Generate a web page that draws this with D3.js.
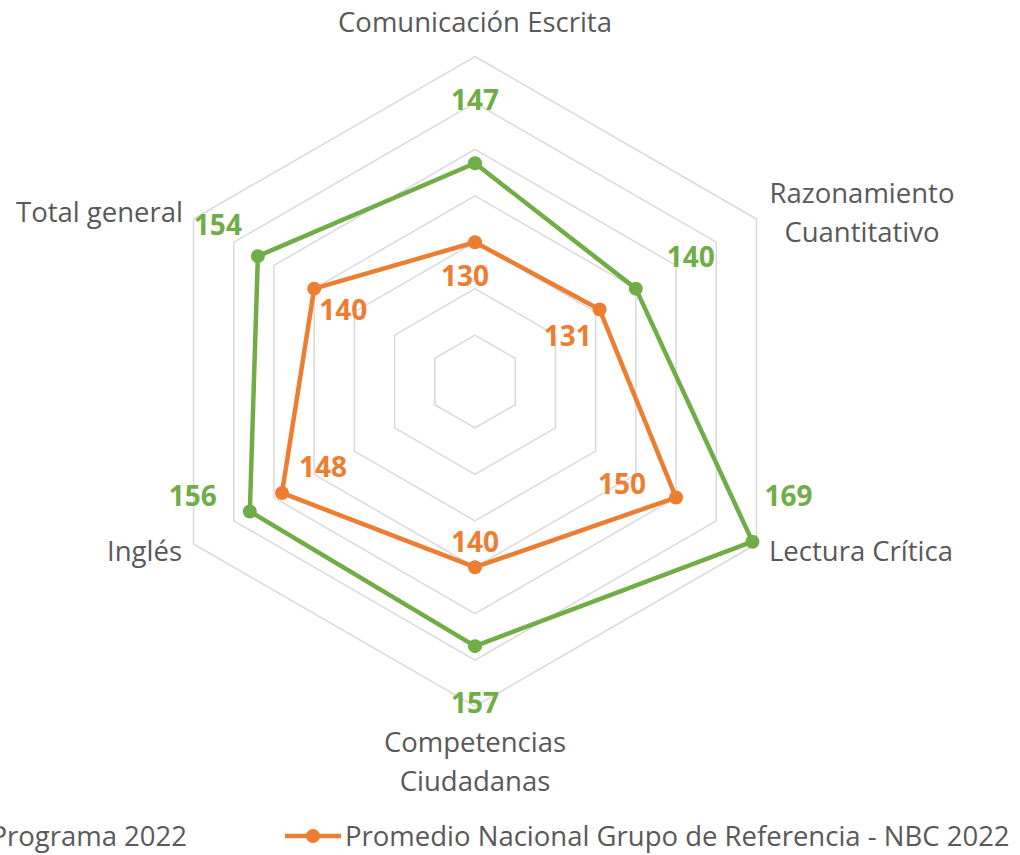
<!DOCTYPE html>
<html>
<head>
<meta charset="utf-8">
<script src="https://cdn.jsdelivr.net/npm/d3@7"></script>
<style>
  html, body { margin: 0; padding: 0; background: #fff; overflow: hidden; }
  svg { display: block; font-family: "Open Sans", sans-serif; }
</style>
</head>
<body>
<div id="chart"></div>
<script>
// categories, clockwise from the top
const categories = [
  ["Comunicación Escrita"],
  ["Razonamiento", "Cuantitativo"],
  ["Lectura Crítica"],
  ["Competencias", "Ciudadanas"],
  ["Inglés"],
  ["Total general"]
];
const programa = [147, 140, 169, 157, 156, 154];
const nacional = [130, 131, 150, 140, 148, 140];
const ringTicks = [110, 120, 130, 140, 150, 160, 170];
const seriesNames = ["Programa 2022", "Promedio Nacional Grupo de Referencia - NBC 2022"];

const W = 1020, H = 855;
const cx = 475, cy = 381.5;
const green = "#70AD47", orange = "#ED7D31", grey = "#595959";

const svg = d3.select("#chart").append("svg")
  .attr("width", W).attr("height", H);

const r = d3.scaleLinear().domain([100, 170]).range([0, 325]);
const angle = d3.scaleLinear().domain([0, categories.length]).range([0, 2 * Math.PI]);

function pos(i, v) {
  const a = angle(i);
  return [cx + r(v) * Math.sin(a), cy - r(v) * Math.cos(a)];
}

const g = svg.append("g");

// hexagon grid
g.selectAll(".ring")
  .data(ringTicks)
  .enter().append("polygon")
    .attr("class", "ring")
    .attr("points", function(t) {
      return categories.map(function(c, i) { return pos(i, t).join(","); }).join(" ");
    })
    .attr("fill", "none")
    .attr("stroke", "#D9D9D9")
    .attr("stroke-width", 1.5);

// category labels (placement tweaked by hand, like the excel original)
const catPlace = [
  {x: 475, y: 22, anchor: "middle"},
  {x: 862, y: 193, anchor: "middle"},
  {x: 769, y: 551, anchor: "start"},
  {x: 475, y: 742, anchor: "middle"},
  {x: 182, y: 551, anchor: "end"},
  {x: 183, y: 212, anchor: "end"}
];
const cat = g.selectAll(".cat")
  .data(categories)
  .enter().append("text")
    .attr("class", "cat")
    .attr("x", function(d, i) { return catPlace[i].x; })
    .attr("y", function(d, i) { return catPlace[i].y; })
    .attr("text-anchor", function(d, i) { return catPlace[i].anchor; })
    .attr("fill", grey)
    .style("font-size", "27.5px");
cat.selectAll("tspan")
  .data(function(d, i) { return d.map(function(s) { return {s: s, i: i}; }); })
  .enter().append("tspan")
    .attr("x", function(d) { return catPlace[d.i].x; })
    .attr("y", function(d, k) { return catPlace[d.i].y + k * 39; })
    .attr("dy", "0.35em")
    .text(function(d) { return d.s; });

const line = d3.line().curve(d3.curveLinearClosed);

// label offsets from each point, per series
const greenOff = [[0, -63], [55, -31], [36, -45], [0, 57], [-57, -15], [-40, -31]];
const orangeOff = [[-10, 34], [-32, 27], [-54, -13], [0, -25], [41, -26], [29, 22]];

function drawSeries(values, color, off) {
  const pts = values.map(function(v, i) { return pos(i, v); });
  g.append("path")
    .attr("d", line(pts))
    .attr("fill", "none")
    .attr("stroke", color)
    .attr("stroke-width", 4.5)
    .attr("stroke-linejoin", "round");
  g.selectAll(null)
    .data(pts)
    .enter().append("circle")
      .attr("cx", function(d) { return d[0]; })
      .attr("cy", function(d) { return d[1]; })
      .attr("r", 7)
      .attr("fill", color);
  g.selectAll(null)
    .data(values)
    .enter().append("text")
      .attr("x", function(d, i) { return pts[i][0] + off[i][0]; })
      .attr("y", function(d, i) { return pts[i][1] + off[i][1]; })
      .attr("dy", "0.35em")
      .attr("text-anchor", "middle")
      .attr("fill", color)
      .style("font-size", "28px")
      .style("font-weight", "bold")
      .text(function(d) { return d; });
}

drawSeries(programa, green, greenOff);
drawSeries(nacional, orange, orangeOff);

// legend (cut off at the left, as in the original)
const legY = 836;
const leg = svg.append("g");
leg.append("line")
  .attr("x1", -110).attr("x2", -54).attr("y1", legY).attr("y2", legY)
  .attr("stroke", green).attr("stroke-width", 4.5);
leg.append("text")
  .attr("x", 187).attr("y", legY).attr("dy", "0.35em")
  .attr("text-anchor", "end")
  .attr("fill", grey).style("font-size", "27.5px")
  .text(seriesNames[0]);
leg.append("line")
  .attr("x1", 285).attr("x2", 341).attr("y1", legY).attr("y2", legY)
  .attr("stroke", orange).attr("stroke-width", 4.5);
leg.append("circle")
  .attr("cx", 313).attr("cy", legY).attr("r", 7).attr("fill", orange);
leg.append("text")
  .attr("x", 345).attr("y", legY).attr("dy", "0.35em")
  .attr("fill", grey).style("font-size", "27.5px")
  .text(seriesNames[1]);
</script>
</body>
</html>
